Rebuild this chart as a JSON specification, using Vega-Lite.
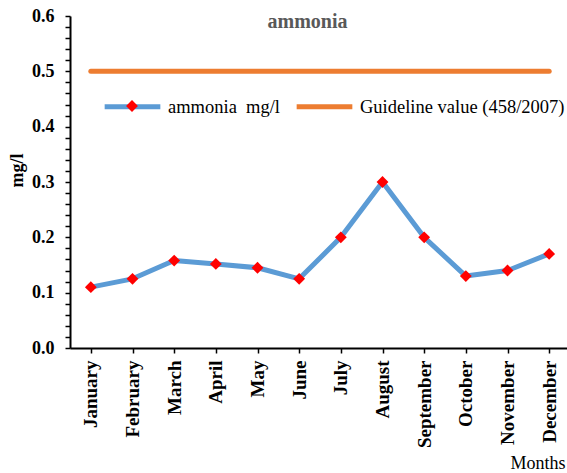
{
  "$schema": "https://vega.github.io/schema/vega-lite/v6.json",
  "width": 500,
  "height": 332,
  "autosize": {"type": "none"},
  "padding": {"left": 70, "top": 16, "right": 0, "bottom": 125},
  "background": "white",
  "config": {
    "view": {"stroke": null},
    "font": "Liberation Serif"
  },
  "data": {
    "values": [
      {"month": "January", "series": "ammonia\u00a0 mg/l", "value": 0.11},
      {"month": "February", "series": "ammonia\u00a0 mg/l", "value": 0.125},
      {"month": "March", "series": "ammonia\u00a0 mg/l", "value": 0.158},
      {"month": "April", "series": "ammonia\u00a0 mg/l", "value": 0.152},
      {"month": "May", "series": "ammonia\u00a0 mg/l", "value": 0.145},
      {"month": "June", "series": "ammonia\u00a0 mg/l", "value": 0.125},
      {"month": "July", "series": "ammonia\u00a0 mg/l", "value": 0.2},
      {"month": "August", "series": "ammonia\u00a0 mg/l", "value": 0.3},
      {"month": "September", "series": "ammonia\u00a0 mg/l", "value": 0.2},
      {"month": "October", "series": "ammonia\u00a0 mg/l", "value": 0.13},
      {"month": "November", "series": "ammonia\u00a0 mg/l", "value": 0.14},
      {"month": "December", "series": "ammonia\u00a0 mg/l", "value": 0.17},
      {"month": "January", "series": "Guideline value (458/2007)", "value": 0.5},
      {"month": "February", "series": "Guideline value (458/2007)", "value": 0.5},
      {"month": "March", "series": "Guideline value (458/2007)", "value": 0.5},
      {"month": "April", "series": "Guideline value (458/2007)", "value": 0.5},
      {"month": "May", "series": "Guideline value (458/2007)", "value": 0.5},
      {"month": "June", "series": "Guideline value (458/2007)", "value": 0.5},
      {"month": "July", "series": "Guideline value (458/2007)", "value": 0.5},
      {"month": "August", "series": "Guideline value (458/2007)", "value": 0.5},
      {"month": "September", "series": "Guideline value (458/2007)", "value": 0.5},
      {"month": "October", "series": "Guideline value (458/2007)", "value": 0.5},
      {"month": "November", "series": "Guideline value (458/2007)", "value": 0.5},
      {"month": "December", "series": "Guideline value (458/2007)", "value": 0.5}
    ]
  },
  "resolve": {"axis": {"x": "independent"}},
  "encoding": {
    "y": {
      "field": "value",
      "type": "quantitative",
      "scale": {"domain": [0, 0.6], "nice": false},
      "axis": {
        "title": "mg/l",
        "titleY": 154,
        "titleFont": "Liberation Serif",
        "titleFontSize": 18,
        "titleFontWeight": "bold",
        "titleColor": "black",
        "titlePadding": 5,
        "values": [0, 0.02, 0.04, 0.06, 0.08, 0.1, 0.12, 0.14, 0.16, 0.18, 0.2, 0.22, 0.24, 0.26, 0.28, 0.3, 0.32, 0.34, 0.36, 0.38, 0.4, 0.42, 0.44, 0.46, 0.48, 0.5, 0.52, 0.54, 0.56, 0.58, 0.6],
        "labelExpr": "abs(datum.value*10 - round(datum.value*10)) < 0.001 ? format(datum.value, '.1f') : ''",
        "labelFont": "Liberation Serif",
        "labelFontSize": 18,
        "labelFontWeight": "bold",
        "labelColor": "black",
        "labelPadding": 11,
        "labelOverlap": false,
        "domainColor": "black",
        "domainWidth": 2,
        "tickColor": "black",
        "tickWidth": 1.5,
        "tickSize": 5,
        "grid": false
      }
    }
  },
  "layer": [
    {
      "mark": {"type": "line", "strokeWidth": 5, "strokeCap": "round", "strokeJoin": "round"},
      "encoding": {
        "x": {
          "field": "month",
          "type": "nominal",
          "sort": null,
          "scale": {"type": "point", "padding": 0.5},
          "axis": {
            "title": "Months",
            "titleX": 495,
            "titleAlign": "right",
            "titleAnchor": "end",
            "titleFont": "Liberation Serif",
            "titleFontSize": 18,
            "titleFontWeight": "normal",
            "titleColor": "black",
            "titlePadding": 7,
            "labelAngle": -90,
            "labelFont": "Liberation Serif",
            "labelFontSize": 19,
            "labelFontWeight": "bold",
            "labelColor": "black",
            "labelPadding": 7,
            "labelLimit": 200,
            "domainColor": "black",
            "domainWidth": 2,
            "tickColor": "black",
            "tickWidth": 1.5,
            "tickSize": 5,
            "grid": false
          }
        },
        "color": {
          "field": "series",
          "type": "nominal",
          "sort": null,
          "scale": {"domain": ["ammonia\u00a0 mg/l", "Guideline value (458/2007)"], "range": ["#5B9BD5", "#ED7D31"]},
          "legend": {
            "title": null,
            "orient": "none",
            "direction": "horizontal",
            "legendX": 32,
            "legendY": 60,
            "symbolType": "stroke",
            "symbolSize": 3100,
            "symbolStrokeWidth": 5,
            "labelFont": "Liberation Serif",
            "labelFontSize": 18.5,
            "labelColor": "black",
            "labelOffset": 5,
            "columnPadding": 5,
            "labelLimit": 300,
            "zindex": 1
          }
        }
      }
    },
    {
      "transform": [{"filter": "datum.series !== 'Guideline value (458/2007)'"}],
      "mark": {"type": "point", "shape": "diamond", "filled": true, "size": 140, "opacity": 1},
      "encoding": {
        "x": {
          "field": "month",
          "type": "nominal",
          "sort": null,
          "axis": {
            "orient": "top",
            "labels": false,
            "ticks": false,
            "domain": false,
            "grid": false,
            "title": "ammonia",
            "titleX": 237,
            "titleY": 11,
            "titleAlign": "center",
            "titleBaseline": "alphabetic",
            "titleFont": "Liberation Serif",
            "titleFontSize": 20,
            "titleFontWeight": "bold",
            "titleColor": "#595959"
          }
        },
        "fill": {
          "field": "series",
          "type": "nominal",
          "scale": {"domain": ["ammonia\u00a0 mg/l"], "range": ["#FF0000"]},
          "legend": {
            "title": null,
            "orient": "none",
            "legendX": 53,
            "legendY": 81,
            "symbolType": "diamond",
            "symbolSize": 140,
            "symbolStrokeWidth": 0,
            "symbolOpacity": 1,
            "labelExpr": "''",
            "labelFontSize": 18,
            "zindex": 2
          }
        }
      }
    }
  ]
}
